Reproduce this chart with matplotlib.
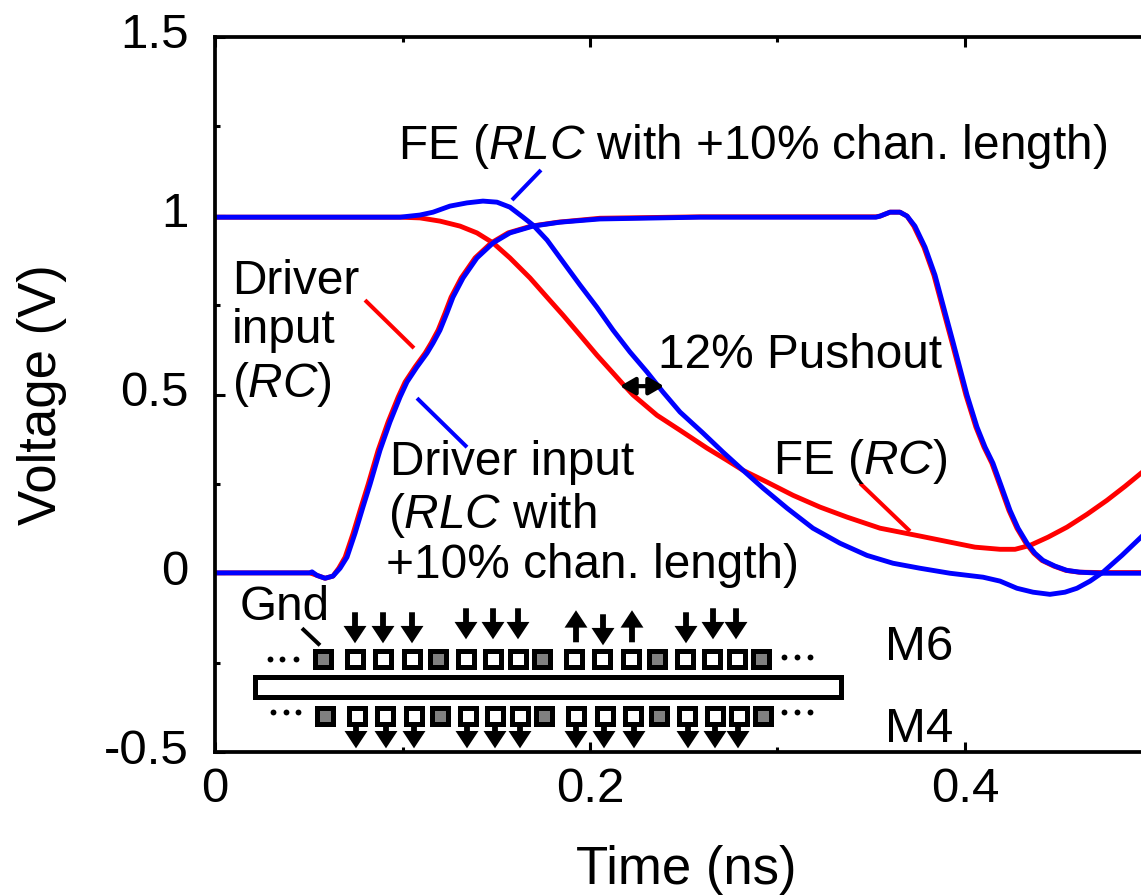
import matplotlib
matplotlib.use('Agg')
from matplotlib import pyplot as plt
from matplotlib.patches import Rectangle
from matplotlib.transforms import ScaledTranslation

plt.rcParams['font.family'] = ['Liberation Sans', 'DejaVu Sans']
plt.rcParams['mathtext.fontset'] = 'custom'
plt.rcParams['mathtext.rm'] = 'Liberation Sans'
plt.rcParams['mathtext.it'] = 'Liberation Sans:italic'

# waveforms, time in ns and voltage in V
driver_rlc_t = [0, .0507, .0517, .0544, .0587, .0629, .0667, .0704, .0747, .0789, .0827, .088, .0933, .0987,
                .1024, .1077, .1131, .1163, .12, .1237, .1269, .1323, .1397, .1483, .1573, .1696, .184, .2053,
                .2587, .3525, .3547, .36, .3653, .3691, .3733, .3787, .384, .3883, .3936, .4011, .4064, .4107,
                .4149, .4192, .424, .4283, .4331, .4373, .4416, .448, .4544, .4613, .472, .5]
driver_rlc_v = [.001, .001, .004, -.006, -.014, -.008, .014, .045, .112, .185, .249, .344, .423, .493,
                .535, .577, .616, .644, .68, .728, .772, .826, .882, .924, .952, .971, .982, .991,
                .996, .996, .999, 1.01, 1.01, .999, .971, .912, .834, .75, .647, .498, .409, .353,
                .308, .246, .176, .126, .084, .056, .036, .02, .008, .003, 0, 0]
driver_rc_t = [0, .0507, .0544, .0587, .0629, .0660, .0694, .0737, .0779, .0817, .087, .0923, .0977,
               .1014, .1067, .1121, .1153, .119, .1227, .1259, .1313, .1387, .1473, .1563, .1686, .183, .2053,
               .2587, .3525, .3547, .36, .3653, .3691, .3727, .3781, .3834, .3877, .393, .4005, .4058, .4101,
               .4143, .4186, .4234, .4277, .4325, .4367, .441, .4474, .4538, .4607, .472, .5]
driver_rc_v = [.001, .001, -.006, -.014, -.008, .014, .045, .112, .185, .249, .344, .423, .493,
               .535, .577, .616, .644, .68, .728, .772, .826, .882, .924, .952, .971, .982, .993,
               .997, .997, .999, 1.01, 1.01, .999, .971, .912, .834, .75, .647, .498, .409, .353,
               .308, .246, .176, .126, .084, .056, .036, .02, .008, .003, .002, .002]
fe_rc_t = [0, .0987, .1093, .12, .1307, .1397, .1483, .1573, .168, .1771, .1856, .1947, .2037, .2123, .2176, .2229,
           .2357, .248, .2624, .2731, .2816, .2944, .3083, .3227, .3371, .3547, .376, .392, .4053, .4187,
           .4267, .4347, .4443, .4544, .4651, .4757, .4853, .4939, .5]
fe_rc_v = [.996, .996, .994, .985, .971, .952, .924, .882, .826, .772, .722, .666, .61, .56, .529, .499,
           .442, .40, .35, .316, .288, .255, .218, .185, .157, .126, .104, .087, .073, .067,
           .067, .078, .101, .129, .165, .204, .243, .28, .305]
fe_rlc_t = [0, .0987, .1093, .1163, .1253, .1344, .1429, .1504, .1573, .1643, .1696, .1771, .1877, .1947,
            .2037, .2123, .2213, .2304, .2389, .248, .2603, .2709, .2816, .2923, .3051, .3189, .3333, .3477,
            .3616, .376, .392, .4096, .4187, .4277, .4363, .4453, .4533, .4597, .4667, .4736, .4837, .4939, .5]
fe_rlc_v = [.996, .996, 1.002, 1.01, 1.027, 1.036, 1.041, 1.038, 1.024, .996, .974, .932, .856, .806,
            .744, .68, .619, .563, .507, .451, .392, .339, .288, .238, .182, .126, .084, .05,
            .028, .014, 0, -.011, -.022, -.042, -.053, -.059, -.053, -.042, -.022, .003, .05, .101, .132]

xticks = [0, .2, .4]
xminor = [.1, .3, .5]
yticks = [-.5, 0, .5, 1, 1.5]
yminor = [-.25, .25, .75, 1.25]
xticklabels = ['0', '0.2', '0.4']
yticklabels = ['-0.5', '0', '0.5', '1', '1.5']

# wire cross-section sketch, pixel positions on the page
m6_signal = [355, 383, 412, 466, 493, 518, 574, 602, 631, 685, 712, 737]
m6_gnd = [323, 438, 542, 657, 761]
m4_signal = [357, 385, 414, 468, 495, 520, 576, 605, 633, 687, 715, 739]
m4_gnd = [325, 440, 544, 659, 763]
m6_down = [(355, 612), (383, 612), (412, 612), (466, 608), (493, 608), (518, 608), (603, 614),
           (686, 612), (713, 608), (736, 608)]
m6_up = [576, 632]
m4_arrows = [356, 386, 414, 467, 495, 520, 576, 604, 634, 688, 715, 738]
dots = [(270, 659), (282, 659), (296, 659), (784, 657), (797, 657), (810, 657),
        (273, 712), (286, 712), (298, 712), (784, 712), (797, 712), (810, 712)]

RED = '#ff0000'
BLUE = '#0000ff'
FS = 34.4
TICK_FS = 35.5
AXIS_FS = 38


def tx(x):
    return (x - 215) / 1875.


def vy(y):
    return (573 - y) / 357.3


def label(x, y, s, fs=FS):
    # x = left edge, y = baseline, in page pixels
    ax.text(tx(x), vy(y), s, fontsize=fs, ha='left', va='baseline')


def leader(x0, y0, x1, y1, c, lw=2.9):
    ax.plot([tx(x0), tx(x1)], [vy(y0), vy(y1)], color=c, lw=lw, solid_capstyle='butt')


def arrow(x0, y0, x1, y1):
    ax.annotate('', xy=(tx(x1), vy(y1)), xytext=(tx(x0), vy(y0)),
                arrowprops=dict(width=4.2, headwidth=16.5, headlength=12.5, shrink=0, color='k', lw=0))


def wire(x, y, fc):
    ax.add_patch(Rectangle((tx(x - 8), vy(y + 8)), 16 / 1875., 16 / 357.3, fc=fc, ec='k', lw=3.6, zorder=3))


fig = plt.figure(figsize=(11.41, 8.96), dpi=100)
ax = fig.add_axes([215 / 1141., (896 - 752) / 896., 937.5 / 1141., 715 / 896.])
ax.set_xlim(0, .5)
ax.set_ylim(-.5, 1.5)

ax.plot(fe_rc_t, fe_rc_v, color=RED, lw=3.5)
ax.plot(driver_rc_t, driver_rc_v, color=RED, lw=3.5)
ax.plot(fe_rlc_t, fe_rlc_v, color=BLUE, lw=3.5)
ax.plot(driver_rlc_t, driver_rlc_v, color=BLUE, lw=3.5)

ax.set_xticks(xticks, xticklabels)
ax.set_xticks(xminor, minor=True)
ax.set_yticks(yticks, yticklabels)
ax.set_yticks(yminor, minor=True)
ax.tick_params(which='major', direction='in', length=7.5, width=2.2, labelsize=TICK_FS, top=True, right=True)
ax.tick_params(which='minor', direction='in', length=3.6, width=2.2, top=True, right=True)
ax.tick_params(axis='x', which='major', pad=11)
ax.tick_params(axis='y', which='major', pad=19)
for t in ax.get_yticklabels():
    t.set_transform(t.get_transform() + ScaledTranslation(0, 6 / 100., fig.dpi_scale_trans))
for s in ax.spines.values():
    s.set_linewidth(2.7)

ax.set_xlabel('Time (ns)', fontsize=AXIS_FS)
ax.xaxis.set_label_coords((686 - 215) / 937.5, -(884 - 752) / 715., ax.transAxes)
ax.xaxis.label.set_va('baseline')
ax.set_ylabel('Voltage (V)', fontsize=AXIS_FS)
ax.yaxis.set_label_coords(-(215 - 42) / 937.5, (752 - 395) / 715.)
ax.yaxis.label.set_va('center')

# curve labels
label(398, 159, r'FE ($\mathit{RLC}$ with +10% chan. length)')
label(232, 294, 'Driver')
label(232, 343, 'input')
label(232, 397, r'($\mathit{RC}$)')
label(390, 475, 'Driver input')
label(388, 528, r'($\mathit{RLC}$ with')
label(386, 578, '+10% chan. length)')
label(658, 368, '12% Pushout')
label(773, 474, r'FE ($\mathit{RC}$)')
label(240, 620, 'Gnd')
label(885, 660, 'M6', 35.5)
label(885, 742, 'M4', 35.5)

leader(512, 200, 541, 170, BLUE)
leader(365, 300, 414, 348, RED)
leader(417, 398, 467, 447, BLUE)
leader(860, 483, 910, 531, RED)
leader(302, 628, 320, 645, 'k')
ax.annotate('', xy=(tx(664), vy(386)), xytext=(tx(620), vy(386)),
            arrowprops=dict(arrowstyle='<|-|>,head_length=0.45,head_width=0.26', color='k', lw=3,
                            mutation_scale=20, shrinkA=0, shrinkB=0))

# sketch below the curves
ax.add_patch(Rectangle((tx(255), vy(697)), 586 / 1875., 20 / 357.3, fc='w', ec='k', lw=3.6, zorder=3))
for x in m6_signal:
    wire(x, 659, 'w')
for x in m6_gnd:
    wire(x, 659, '#808080')
for x in m4_signal:
    wire(x, 716, 'w')
for x in m4_gnd:
    wire(x, 716, '#808080')
for x, y in m6_down:
    arrow(x, y, x, y + 31)
for x in m6_up:
    arrow(x, 642, x, 610)
for x in m4_arrows:
    arrow(x, 726, x, 748)
ax.plot([tx(d[0]) for d in dots], [vy(d[1]) for d in dots], 'o', color='k', ms=4.2, mew=0, ls='none')

fig.savefig('out.png', dpi=100)
